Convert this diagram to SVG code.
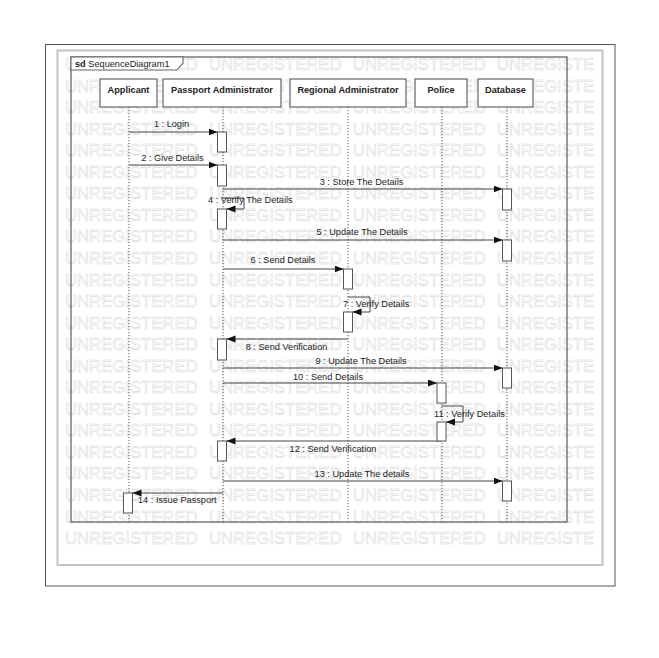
<svg xmlns="http://www.w3.org/2000/svg" width="659" height="658" viewBox="0 0 659 658">
<defs>
<style>
.wm{font-family:"Liberation Sans",Arial,sans-serif;font-size:16.7px;word-spacing:6.7px;fill:#ffffff;stroke:#d2d2d2;stroke-width:0.45}
.head{fill:#fff;stroke:#666;stroke-width:1.2}
.ht{font-family:"Liberation Sans",Arial,sans-serif;font-size:9.2px;font-weight:bold;fill:#222;text-anchor:middle}
.ll{stroke:#555;stroke-width:1;stroke-dasharray:1.2,1.8;fill:none}
.act{fill:#fff;stroke:#555;stroke-width:1}
.msg{stroke:#444;stroke-width:1;fill:none;marker-end:url(#ah)}
.lb{font-family:"Liberation Sans",Arial,sans-serif;font-size:9.2px;fill:#222}
.c{text-anchor:middle}
</style>
<marker id="ah" markerUnits="userSpaceOnUse" markerWidth="10" markerHeight="8" refX="9" refY="3.5" orient="auto">
<path d="M0,0 L9,3.5 L0,7 z" fill="#111"/>
</marker>
</defs>
<rect width="659" height="658" fill="#fff"/>
<rect x="45.5" y="44.5" width="569.5" height="541.5" fill="#fff" stroke="#555" stroke-width="1"/>
<rect x="57.5" y="50.5" width="545" height="514.5" fill="#fff" stroke="#c4c4c4" stroke-width="2"/>
<g id="watermark">
<text class="wm" x="65" y="70">UNREGISTERED UNREGISTERED UNREGISTERED UNREGISTE</text>
<text class="wm" x="65" y="91.55">UNREGISTERED UNREGISTERED UNREGISTERED UNREGISTE</text>
<text class="wm" x="65" y="113.1">UNREGISTERED UNREGISTERED UNREGISTERED UNREGISTE</text>
<text class="wm" x="65" y="134.65">UNREGISTERED UNREGISTERED UNREGISTERED UNREGISTE</text>
<text class="wm" x="65" y="156.2">UNREGISTERED UNREGISTERED UNREGISTERED UNREGISTE</text>
<text class="wm" x="65" y="177.75">UNREGISTERED UNREGISTERED UNREGISTERED UNREGISTE</text>
<text class="wm" x="65" y="199.3">UNREGISTERED UNREGISTERED UNREGISTERED UNREGISTE</text>
<text class="wm" x="65" y="220.85">UNREGISTERED UNREGISTERED UNREGISTERED UNREGISTE</text>
<text class="wm" x="65" y="242.4">UNREGISTERED UNREGISTERED UNREGISTERED UNREGISTE</text>
<text class="wm" x="65" y="263.95">UNREGISTERED UNREGISTERED UNREGISTERED UNREGISTE</text>
<text class="wm" x="65" y="285.5">UNREGISTERED UNREGISTERED UNREGISTERED UNREGISTE</text>
<text class="wm" x="65" y="307.05">UNREGISTERED UNREGISTERED UNREGISTERED UNREGISTE</text>
<text class="wm" x="65" y="328.6">UNREGISTERED UNREGISTERED UNREGISTERED UNREGISTE</text>
<text class="wm" x="65" y="350.15">UNREGISTERED UNREGISTERED UNREGISTERED UNREGISTE</text>
<text class="wm" x="65" y="371.7">UNREGISTERED UNREGISTERED UNREGISTERED UNREGISTE</text>
<text class="wm" x="65" y="393.25">UNREGISTERED UNREGISTERED UNREGISTERED UNREGISTE</text>
<text class="wm" x="65" y="414.8">UNREGISTERED UNREGISTERED UNREGISTERED UNREGISTE</text>
<text class="wm" x="65" y="436.35">UNREGISTERED UNREGISTERED UNREGISTERED UNREGISTE</text>
<text class="wm" x="65" y="457.9">UNREGISTERED UNREGISTERED UNREGISTERED UNREGISTE</text>
<text class="wm" x="65" y="479.45">UNREGISTERED UNREGISTERED UNREGISTERED UNREGISTE</text>
<text class="wm" x="65" y="501">UNREGISTERED UNREGISTERED UNREGISTERED UNREGISTE</text>
<text class="wm" x="65" y="522.55">UNREGISTERED UNREGISTERED UNREGISTERED UNREGISTE</text>
<text class="wm" x="65" y="544.1">UNREGISTERED UNREGISTERED UNREGISTERED UNREGISTE</text>
</g>
<g id="frame">
<rect x="71" y="57" width="496" height="465" fill="none" stroke="#666" stroke-width="1.3"/>
<path d="M71,57 L183,57 L183,63 L177,70 L71,70 z" fill="#fff" stroke="#666" stroke-width="1.1"/>
<text class="lb" x="75" y="67"><tspan font-weight="bold">sd</tspan> SequenceDiagram1</text>
</g>
<g id="lifelines">
<line class="ll" x1="129" y1="107" x2="129" y2="522"/>
<line class="ll" x1="223" y1="107" x2="223" y2="522"/>
<line class="ll" x1="348" y1="107" x2="348" y2="522"/>
<line class="ll" x1="442" y1="107" x2="442" y2="522"/>
<line class="ll" x1="507" y1="107" x2="507" y2="522"/>
</g>
<g id="applicant"><rect class="head" x="100" y="79" width="57" height="28"/><text class="ht" x="128.5" y="93">Applicant</text></g>
<g id="passport-admin"><rect class="head" x="163" y="79" width="118" height="28"/><text class="ht" x="222" y="93">Passport Administrator</text></g>
<g id="regional-admin"><rect class="head" x="290" y="79" width="116" height="28"/><text class="ht" x="348" y="93">Regional Administrator</text></g>
<g id="police"><rect class="head" x="415" y="79" width="52" height="28"/><text class="ht" x="441" y="93">Police</text></g>
<g id="database"><rect class="head" x="478" y="79" width="55" height="28"/><text class="ht" x="505.5" y="93">Database</text></g>
<g id="connectors">
<line class="msg" x1="129" y1="132" x2="217.5" y2="132"/>
<line class="msg" x1="129" y1="165" x2="217.5" y2="165"/>
<line class="msg" x1="223" y1="189" x2="502.5" y2="189"/>
<polyline class="msg" points="223,198 244,198 244,209 226.5,209"/>
<line class="msg" x1="223" y1="240" x2="502.5" y2="240"/>
<line class="msg" x1="223" y1="269" x2="343.5" y2="269"/>
<polyline class="msg" points="348,297 370,297 370,312 352.5,312"/>
<line class="msg" x1="348" y1="339" x2="226.5" y2="339"/>
<line class="msg" x1="223" y1="368" x2="502.5" y2="368"/>
<line class="msg" x1="223" y1="383" x2="437" y2="383"/>
<polyline class="msg" points="442,406 463,406 463,422 446,422"/>
<line class="msg" x1="442" y1="441" x2="226.5" y2="441"/>
<line class="msg" x1="223" y1="481" x2="502.5" y2="481"/>
<line class="msg" x1="223" y1="493" x2="132.5" y2="493"/>
<text class="lb c" x="171.5" y="127">1 : Login</text>
<text class="lb c" x="172.5" y="161">2 : Give Details</text>
<text class="lb c" x="361.5" y="185">3 : Store The Details</text>
<text class="lb" x="208" y="203">4 : Verify The Details</text>
<text class="lb c" x="362" y="235">5 : Update The Details</text>
<text class="lb c" x="283" y="263">6 : Send Details</text>
<text class="lb" x="343" y="307">7 : Verify Details</text>
<text class="lb c" x="286.5" y="350">8 : Send Verification</text>
<text class="lb c" x="361" y="364">9 : Update The Details</text>
<text class="lb c" x="328" y="380">10 : Send Details</text>
<text class="lb" x="434" y="417">11 : Verify Details</text>
<text class="lb c" x="333" y="452">12 : Send Verification</text>
<text class="lb c" x="362" y="477">13 : Update The details</text>
<text class="lb" x="138" y="503">14 : Issue Passport</text>
</g>
<g id="activations">
<rect class="act" x="217.5" y="132" width="9" height="20"/>
<rect class="act" x="217.5" y="165" width="9" height="21"/>
<rect class="act" x="502.5" y="189" width="9" height="21"/>
<rect class="act" x="217.5" y="209" width="9" height="20"/>
<rect class="act" x="502.5" y="240" width="9" height="21"/>
<rect class="act" x="343.5" y="269" width="9" height="20"/>
<rect class="act" x="343.5" y="312" width="9" height="20"/>
<rect class="act" x="217.5" y="339" width="9" height="21"/>
<rect class="act" x="502.5" y="368" width="9" height="20"/>
<rect class="act" x="437" y="383" width="9" height="20"/>
<rect class="act" x="437" y="422" width="9" height="19"/>
<rect class="act" x="217.5" y="441" width="9" height="20"/>
<rect class="act" x="502.5" y="481" width="9" height="20"/>
<rect class="act" x="123.5" y="493" width="9" height="20"/>
</g>
</svg>
